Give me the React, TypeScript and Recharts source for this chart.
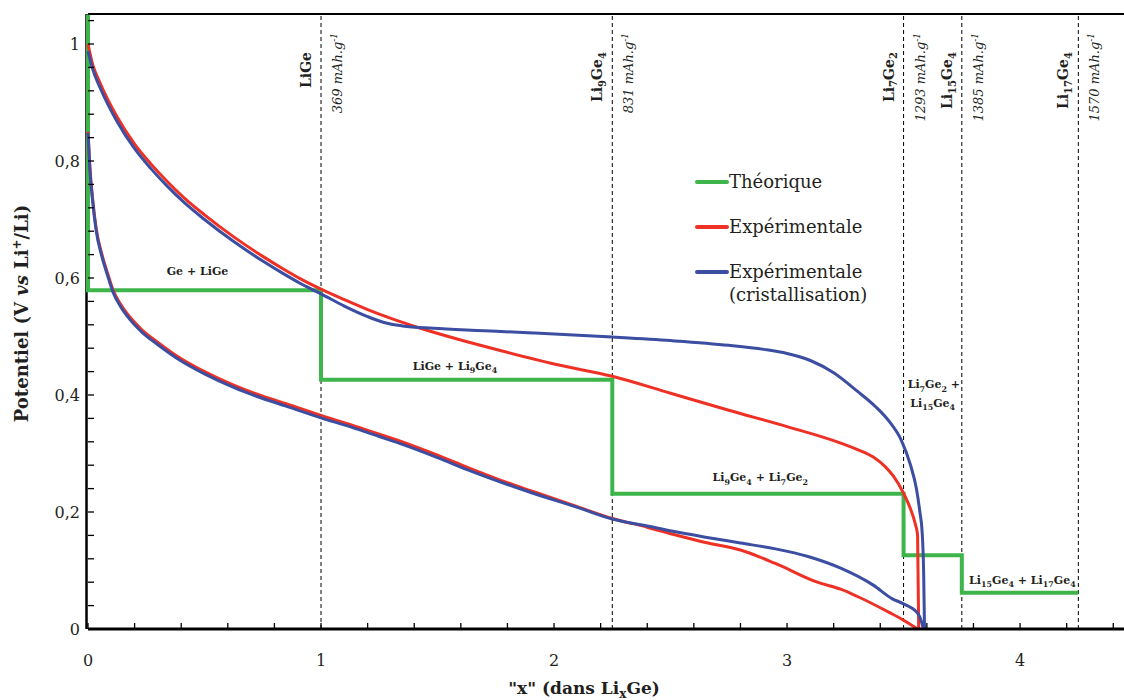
import React from 'react';
import { LineChart, Line, XAxis, YAxis, ReferenceLine, ReferenceDot, Label } from 'recharts';

const GREEN = '#3DB54A';
const RED = '#EE3124';
const BLUE = '#3B4EA2';
const INK = '#231F20';
const FONT = '"DejaVu Serif", serif';

const X_MAX = 4.446;
const Y_MAX = 1.0513;

const xTicks = [0, 0.2, 0.4, 0.6, 0.8, 1, 1.2, 1.4, 1.6, 1.8, 2, 2.2, 2.4, 2.6, 2.8, 3, 3.2, 3.4, 3.6, 3.8, 4, 4.2, 4.4];
const yTicks = [0, 0.04, 0.08, 0.12, 0.16, 0.2, 0.24, 0.28, 0.32, 0.36, 0.4, 0.44, 0.48, 0.52, 0.56, 0.6, 0.64, 0.68, 0.72, 0.76, 0.8, 0.84, 0.88, 0.92, 0.96, 1, 1.04];
const xMajor = [0, 1, 2, 3, 4];
const yMajor = [0, 0.2, 0.4, 0.6, 0.8, 1];

// Theoretical staircase [x, V]
const theorique: [number, number][] = [
  [0, 1.05], [0, 0.579], [1, 0.579], [1, 0.426], [2.25, 0.426], [2.25, 0.231],
  [3.5, 0.231], [3.5, 0.126], [3.75, 0.126], [3.75, 0.062], [4.25, 0.062],
];

// Experimental (red) lithiation branch
const expLower: [number, number][] = [
  [0, 0.85], [0.008, 0.79], [0.02, 0.735], [0.035, 0.685], [0.06, 0.64], [0.085, 0.607],
  [0.107, 0.58], [0.14, 0.555], [0.17, 0.538], [0.23, 0.512], [0.3, 0.49], [0.4, 0.462],
  [0.5, 0.44], [0.63, 0.416], [0.75, 0.398], [0.85, 0.385], [1.0, 0.365], [1.13, 0.349],
  [1.25, 0.333], [1.34, 0.321], [1.5, 0.297], [1.63, 0.276], [1.8, 0.25], [1.91, 0.235],
  [2.1, 0.209], [2.25, 0.189], [2.4, 0.174], [2.51, 0.162], [2.65, 0.148], [2.8, 0.135],
  [2.95, 0.112], [3.13, 0.08], [3.23, 0.068], [3.3, 0.056], [3.44, 0.028], [3.5, 0.015], [3.56, 0],
];
// Experimental (red) delithiation branch
const expUpper: [number, number][] = [
  [0, 1.0], [0.02, 0.965], [0.05, 0.935], [0.124, 0.876], [0.2, 0.829], [0.27, 0.795],
  [0.34, 0.765], [0.41, 0.738], [0.5, 0.708], [0.63, 0.669], [0.75, 0.637], [0.84, 0.615],
  [0.91, 0.599], [1.0, 0.581], [1.1, 0.563], [1.2, 0.546], [1.3, 0.531], [1.42, 0.515],
  [1.6, 0.494], [1.77, 0.476], [2.0, 0.453], [2.25, 0.432], [2.5, 0.403], [2.75, 0.374],
  [3.0, 0.346], [3.2, 0.322], [3.3, 0.307], [3.37, 0.294], [3.42, 0.278], [3.455, 0.262],
  [3.5, 0.232], [3.53, 0.205], [3.55, 0.18], [3.56, 0.161], [3.562, 0.1], [3.565, 0],
];
// Experimental crystallisation (blue) lithiation branch
const crisLower: [number, number][] = [
  [0, 0.848], [0.008, 0.786], [0.02, 0.731], [0.035, 0.681], [0.06, 0.636], [0.085, 0.603],
  [0.107, 0.576], [0.14, 0.551], [0.17, 0.534], [0.23, 0.508], [0.3, 0.486], [0.4, 0.458],
  [0.5, 0.436], [0.63, 0.412], [0.75, 0.394], [0.85, 0.381], [1.0, 0.361], [1.13, 0.345],
  [1.25, 0.329], [1.34, 0.317], [1.5, 0.293], [1.63, 0.272], [1.8, 0.247], [1.91, 0.232],
  [2.1, 0.208], [2.25, 0.188], [2.4, 0.176], [2.51, 0.167], [2.65, 0.157], [2.8, 0.147],
  [2.95, 0.137], [3.09, 0.124], [3.23, 0.104], [3.37, 0.075], [3.45, 0.052], [3.5, 0.043],
  [3.56, 0.027], [3.575, 0.015], [3.585, 0],
];
// Experimental crystallisation (blue) delithiation branch
const crisUpper: [number, number][] = [
  [0, 0.988], [0.02, 0.957], [0.05, 0.927], [0.124, 0.868], [0.2, 0.821], [0.27, 0.787],
  [0.34, 0.757], [0.41, 0.73], [0.5, 0.7], [0.63, 0.661], [0.75, 0.629], [0.84, 0.607],
  [0.91, 0.591], [1.0, 0.573], [1.1, 0.552], [1.2, 0.534], [1.27, 0.524], [1.35, 0.518],
  [1.48, 0.514], [1.7, 0.51], [1.91, 0.506], [2.25, 0.499], [2.5, 0.493], [2.75, 0.485],
  [2.9, 0.478], [3.0, 0.471], [3.1, 0.459], [3.2, 0.438], [3.3, 0.407], [3.38, 0.38],
  [3.44, 0.354], [3.49, 0.323], [3.53, 0.28], [3.555, 0.24], [3.57, 0.2], [3.58, 0.164],
  [3.586, 0.1], [3.59, 0],
];

// Phase boundaries: x, compound, capacity
const phaseX = [1, 2.25, 3.5, 3.75, 4.25];
const phaseNames = ['LiGe', 'Li_9Ge_4', 'Li_7Ge_2', 'Li_15Ge_4', 'Li_17Ge_4'];
const phaseCaps = ['369', '831', '1293', '1385', '1570'];

// Two-phase domain labels: [x, V, text]
const domainLabels: [number, number, string][] = [
  [0.47, 0.612, 'Ge + LiGe'],
  [1.575, 0.45, 'LiGe + Li_9Ge_4'],
  [2.885, 0.259, 'Li_9Ge_4 + Li_7Ge_2'],
  [3.63, 0.418, 'Li_7Ge_2 +'],
  [3.625, 0.387, 'Li_15Ge_4'],
  [4.01, 0.084, 'Li_15Ge_4 + Li_17Ge_4'],
];

const legendItems = [
  { name: 'Théorique', color: GREEN },
  { name: 'Expérimentale', color: RED },
  { name: 'Expérimentale\n(cristallisation)', color: BLUE },
];

const toRows = (arr: [number, number][]) => arr.map(([x, v]) => ({ x, v }));

function formula(str: string, fs: number) {
  const parts = str.split(/_(\d+)/);
  const out: React.ReactNode[] = [];
  let sub = false;
  parts.forEach((p, i) => {
    if (p === '') return;
    const isSub = i % 2 === 1;
    const dy = isSub && !sub ? fs * 0.28 : !isSub && sub ? -fs * 0.28 : 0;
    out.push(
      <tspan key={i} fontSize={isSub ? fs * 0.72 : fs} dy={dy}>
        {p}
      </tspan>
    );
    sub = isSub;
  });
  return out;
}

const YTick = (props: any) => {
  const { x, y, payload } = props;
  const v = payload.value;
  const major = yMajor.some((m) => Math.abs(m - v) < 1e-6);
  return (
    <g>
      <line x1={x + 8} x2={x + 14} y1={y} y2={y} stroke="#000" strokeWidth={1.3} />
      {major && (
        <text x={x} y={y} dy={6} textAnchor="end" fontFamily={FONT} fontSize={16} fill={INK}>
          {String(Number(v.toFixed(1))).replace('.', ',')}
        </text>
      )}
    </g>
  );
};

const XTick = (props: any) => {
  const { x, y, payload } = props;
  const v = payload.value;
  const major = xMajor.some((m) => Math.abs(m - v) < 1e-6);
  return (
    <g>
      <line x1={x} x2={x} y1={y - 8} y2={y - 14} stroke="#000" strokeWidth={1.3} />
      {major && (
        <text x={x} y={y + 29} textAnchor="middle" fontFamily={FONT} fontSize={16} fill={INK}>
          {String(v)}
        </text>
      )}
    </g>
  );
};

const phaseLabel = (name: string, cap: string) => (props: any) => {
  const vb = props.viewBox || {};
  const lx = vb.x;
  const top = vb.y;
  return (
    <g>
      <g transform={`translate(${lx - 15}, ${top + 38}) rotate(-90)`}>
        <text x={0} y={5} textAnchor="end" fontFamily={FONT} fontWeight="bold" fontSize={14} fill={INK}>
          {formula(name, 14)}
        </text>
      </g>
      <g transform={`translate(${lx + 16}, ${top + 19}) rotate(-90)`}>
        <text x={0} y={5} textAnchor="end" fontFamily={FONT} fontStyle="italic" fontSize={13} fill={INK}>
          {cap} mAh.g
          <tspan fontSize={9} dy={-5}>-1</tspan>
        </text>
      </g>
    </g>
  );
};

const domainShape = (text: string) => (props: any) => (
  <text x={props.cx} y={props.cy + 4} textAnchor="middle" fontFamily={FONT} fontWeight="bold" fontSize={11} fill={INK}>
    {formula(text, 11)}
  </text>
);

const leftAxisShape = (props: any) => (
  <line x1={props.x1 - 1.5} x2={props.x2 - 1.5} y1={props.y1} y2={props.y2} stroke="#000" strokeWidth={2.5} />
);

const YTitle = (props: any) => {
  const vb = props.viewBox;
  const cy = vb.y + vb.height / 2 - 8;
  return (
    <g transform={`translate(22, ${cy}) rotate(-90)`}>
      <text x={0} y={6} textAnchor="middle" fontFamily={FONT} fontWeight="bold" fontSize={18} fill={INK}>
        Potentiel (V <tspan fontStyle="italic">vs</tspan> Li
        <tspan fontSize={12} dy={-7}>+</tspan>
        <tspan dy={7}>/Li)</tspan>
      </text>
    </g>
  );
};

const XTitle = (props: any) => {
  const vb = props.viewBox;
  return (
    <text x={vb.x + 496} y={694} textAnchor="middle" fontFamily={FONT} fontWeight="bold" fontSize={17} fill={INK}>
      "x" (dans Li<tspan fontSize={12} dy={4}>x</tspan>
      <tspan dy={-4}>Ge)</tspan>
    </text>
  );
};

export default function App() {
  return (
    <div style={{ position: 'absolute', left: 0, top: 0, width: 1124, height: 700, background: '#fff' }}>
      <LineChart width={1124} height={700} margin={{ top: 14, right: 0, bottom: 0, left: 0 }}>
        <XAxis
          dataKey="x"
          type="number"
          domain={[0, X_MAX]}
          ticks={xTicks}
          interval={0}
          tickSize={0}
          tickMargin={8}
          tickLine={false}
          tick={XTick}
          height={71}
          axisLine={{ stroke: '#000', strokeWidth: 3 }}
        >
          <Label content={XTitle} />
        </XAxis>
        <YAxis
          dataKey="v"
          type="number"
          domain={[0, Y_MAX]}
          ticks={yTicks}
          interval={0}
          tickSize={0}
          tickMargin={8}
          tickLine={false}
          tick={YTick}
          width={88}
          axisLine={false}
        >
          <Label content={YTitle} />
        </YAxis>
        <ReferenceLine x={0} shape={leftAxisShape} />
        <ReferenceLine y={Y_MAX} stroke="#000" strokeWidth={2} />
        {phaseX.map((px, i) => (
          <ReferenceLine
            key={px}
            x={px}
            stroke="#000"
            strokeWidth={1}
            strokeDasharray="4 3"
            label={phaseLabel(phaseNames[i], phaseCaps[i])}
          />
        ))}
        <Line data={toRows(theorique)} dataKey="v" type="linear" stroke={GREEN} strokeWidth={4} dot={false} isAnimationActive={false} />
        <Line data={toRows(expLower)} dataKey="v" type="monotoneX" stroke={RED} strokeWidth={3} dot={false} isAnimationActive={false} />
        <Line data={toRows(expUpper)} dataKey="v" type="monotoneX" stroke={RED} strokeWidth={3} dot={false} isAnimationActive={false} />
        <Line data={toRows(crisLower)} dataKey="v" type="monotoneX" stroke={BLUE} strokeWidth={3} dot={false} isAnimationActive={false} />
        <Line data={toRows(crisUpper)} dataKey="v" type="monotoneX" stroke={BLUE} strokeWidth={3} dot={false} isAnimationActive={false} />
        {domainLabels.map(([x, v, t]) => (
          <ReferenceDot key={t + x} x={x} y={v} r={1} shape={domainShape(t)} />
        ))}
      </LineChart>
      <div style={{ position: 'absolute', left: 695, top: 170, fontFamily: FONT, fontSize: 18, color: INK, lineHeight: '23px' }}>
        {legendItems.map((it) => (
          <div key={it.name} style={{ display: 'flex', alignItems: 'flex-start', marginBottom: 22 }}>
            <div style={{ width: 34, height: 4, background: it.color, marginTop: 9.5, borderRadius: 2, flex: 'none' }} />
            <div style={{ whiteSpace: 'pre' }}>{it.name}</div>
          </div>
        ))}
      </div>
    </div>
  );
}
